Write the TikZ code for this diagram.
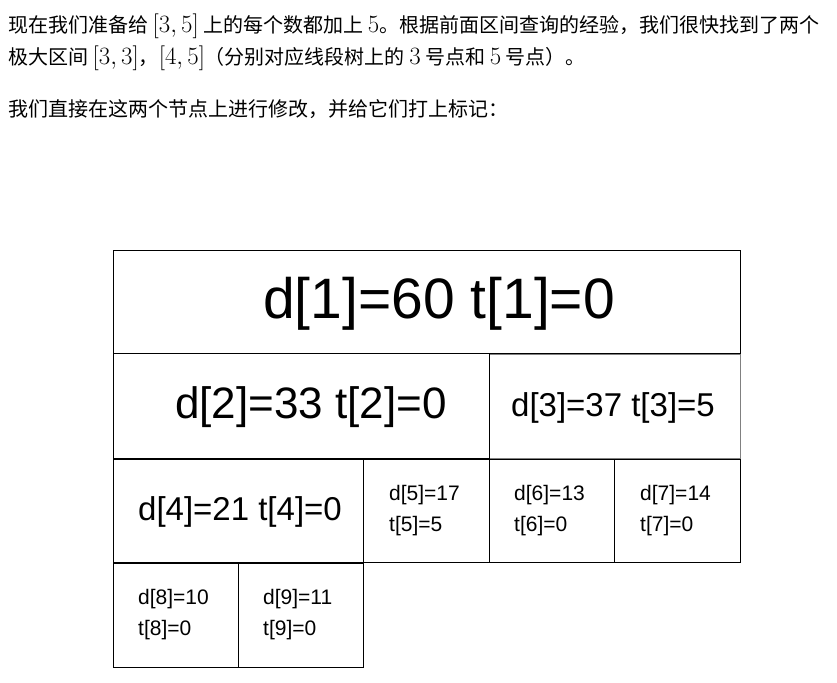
\documentclass[tikz,border=0pt]{standalone}
\usepackage{fontspec}
\setmainfont{Liberation Sans}
\newfontfamily\cjk{Noto Sans CJK SC}
\usetikzlibrary{positioning}

\tikzset{
  cell/.style={draw, line width=1.3pt, inner sep=0pt, anchor=north west},
  para/.style={anchor=west, inner sep=0pt, font=\cjk\fontsize{20}{22}\selectfont},
  huge/.style={inner sep=0pt, font=\fontsize{57}{60}\selectfont},
  big/.style={inner sep=0pt, font=\fontsize{44}{48}\selectfont},
  mid/.style={inner sep=0pt, font=\fontsize{33}{36}\selectfont},
  small/.style={anchor=west, inner sep=0pt, align=left, font=\fontsize{21}{31}\selectfont}
}
\newcommand\mth[1]{{\fontsize{25}{25}\selectfont$#1$}}

\begin{document}
\begin{tikzpicture}[x=1pt,y=-1pt]
  \useasboundingbox (0,0) rectangle (837,682);

      % text above the tree
      \draw (8,26) node[para] (line1) {现在我们准备给 \mth{[3,5]} 上的每个数都加上 \mth{5}。根据前面区间查询的经验，我们很快找到了两个};
      \draw (8,58) node[para] (line2) {极大区间 \mth{[3,3]}，\mth{[4,5]}（分别对应线段树上的 \mth{3} 号点和 \mth{5} 号点）。};
      \draw (8,109) node[para] (line3) {我们直接在这两个节点上进行修改，并给它们打上标记：};

      % cells of the segment tree
      \draw (113,250) node[cell, minimum width=627, minimum height=103] (c1) {};
      \draw (489,354) node[cell, draw=gray, minimum width=251, minimum height=104] (c3) {};
      \draw (113,353) node[cell, minimum width=376, minimum height=105] (c2) {};
      \draw (113,459) node[cell, minimum width=250, minimum height=103] (c4) {};
      \draw (363,459) node[cell, minimum width=126, minimum height=103] (c5) {};
      \draw (489,459) node[cell, minimum width=125, minimum height=103] (c6) {};
      \draw (614,459) node[cell, minimum width=126, minimum height=103] (c7) {};
      \draw (113,563) node[cell, minimum width=125, minimum height=104] (c8) {};
      \draw (238,563) node[cell, minimum width=125, minimum height=104] (c9) {};

      % values and tags
      \draw (439,304) node[huge] (v1) {d[1]=60 t[1]=0};
      \draw (311,407) node[big] (v2) {d[2]=33 t[2]=0};
      \draw (613,408) node[mid] (v3) {d[3]=37 t[3]=5};
      \draw (240,512) node[mid] (v4) {d[4]=21 t[4]=0};
      \draw (389,511) node[small] (v5) {d[5]=17\\t[5]=5};
      \draw (514,511) node[small] (v6) {d[6]=13\\t[6]=0};
      \draw (640,511) node[small] (v7) {d[7]=14\\t[7]=0};
      \draw (138,615) node[small] (v8) {d[8]=10\\t[8]=0};
      \draw (263,615) node[small] (v9) {d[9]=11\\t[9]=0};
\end{tikzpicture}
\end{document}
